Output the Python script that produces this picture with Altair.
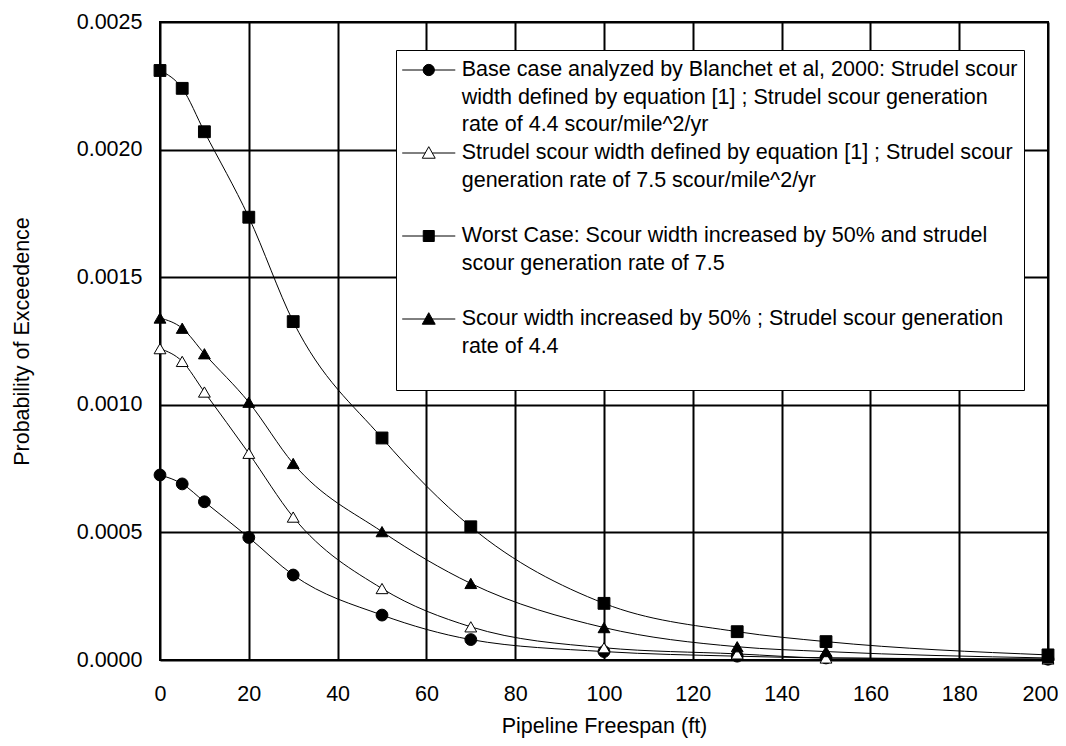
import altair as alt
import pandas as pd

# ---- data ----
freespan = [0, 5, 10, 20, 30, 50, 70, 100, 130, 150, 200]
base_case = [0.000725, 0.00069, 0.00062, 0.00048, 0.000333, 0.000176, 0.00008, 0.000033, 0.000015, 0.000008, 0.000003]
rate_7_5 = [0.00122, 0.00117, 0.00105, 0.00081, 0.00056, 0.00028, 0.00013, 0.000048, 0.000024, 0.000008, 0.000004]
worst_case = [0.00231, 0.00224, 0.00207, 0.001735, 0.001326, 0.00087, 0.000522, 0.000222, 0.000111, 0.000072, 0.00002]
width_50 = [0.00134, 0.0013, 0.0012, 0.00101, 0.00077, 0.000503, 0.0003, 0.000127, 0.000052, 0.000033, 0.000008]

series_labels = [
    "Base case analyzed by Blanchet et al, 2000: Strudel scour|width defined by equation [1] ; Strudel scour generation|rate of 4.4 scour/mile^2/yr",
    "Strudel scour width defined by equation [1] ; Strudel scour|generation rate of 7.5 scour/mile^2/yr| ",
    "Worst Case: Scour width increased by 50% and strudel|scour generation rate of 7.5| ",
    "Scour width increased by 50% ; Strudel scour generation|rate of 4.4| ",
]
series_values = [base_case, rate_7_5, worst_case, width_50]
marker_shapes = ["circle", "triangle-up", "square", "triangle-up"]
marker_fills = ["black", "white", "black", "black"]

x_ticks = [0, 20, 40, 60, 80, 100, 120, 140, 160, 180, 200]
y_ticks = [0.0, 0.0005, 0.001, 0.0015, 0.002, 0.0025]

# legend symbols: short line with marker (unit = 13.75 px)
legend_paths = [
    "M-1.93,0H1.93M0.41,0A0.41,0.41 0 1,1 -0.41,0A0.41,0.41 0 1,1 0.41,0Z",
    "M-1.93,0H-0.26M0.26,0H1.93M0,-0.46L0.47,0.38L-0.47,0.38Z",
    "M-1.93,0H1.93M-0.4,-0.4H0.4V0.4H-0.4Z",
    "M-1.93,0H1.93M0,-0.46L0.47,0.38L-0.47,0.38Z",
]

rows = []
for lab, vals, shp, fil in zip(series_labels, series_values, marker_shapes, marker_fills):
    for xv, yv in zip(freespan, vals):
        rows.append({"x": xv, "y": yv, "series": lab, "shape": shp, "fill": fil})
df = pd.DataFrame(rows)

FONT = "Liberation Sans"
FS = 21.5

x_enc = alt.X(
    "x:Q",
    scale=alt.Scale(domain=[0, 200], nice=False),
    axis=alt.Axis(
        values=x_ticks, title="Pipeline Freespan (ft)", grid=True, ticks=False, domain=False,
        labelFlush=False, labelPadding=40, labelBaseline="alphabetic",
        labelOffset={"condition": {"test": "datum.value >= 200", "value": -8}, "value": 0},
        titleBaseline="alphabetic", titleY=72,
    ),
)
y_enc = alt.Y(
    "y:Q",
    scale=alt.Scale(domain=[0, 0.0025], nice=False),
    axis=alt.Axis(
        values=y_ticks, format=".4f", title="Probability of Exceedence", grid=True, ticks=False,
        domain=False, labelFlush=False, labelPadding=18,
        titleAngle=270, titleBaseline="alphabetic", titleX=-131.5,
    ),
)

base = alt.Chart(df)

lines = base.mark_line(color="black", strokeWidth=1, interpolate="monotone").encode(
    x=x_enc, y=y_enc, detail="series:N", order="x:Q"
)

points = base.mark_point(filled=True, stroke="black", strokeWidth=1, size=140, opacity=1).encode(
    x=x_enc, y=y_enc,
    shape=alt.Shape("shape:N", scale=None),
    fill=alt.Fill("fill:N", scale=None),
)

leg = alt.Legend(
    orient="none", legendX=236, legendY=28, direction="vertical", title=None,
    labelExpr="split(datum.label, '|')", labelFont=FONT, labelFontSize=FS, labelColor="black",
    labelLimit=2000, labelOffset=18.5, labelBaseline="middle",
    symbolSize=756.25, symbolOffset=12.75,
    symbolStrokeColor="black", symbolStrokeWidth=1, symbolOpacity=1,
    strokeColor="black", fillColor="white", padding=5.5, rowPadding=3, cornerRadius=0,
)

legend_layer = base.transform_filter("datum.x < 0").mark_point(
    filled=True, stroke="black", strokeWidth=1
).encode(
    x=x_enc, y=y_enc,
    shape=alt.Shape("series:N", scale=alt.Scale(domain=series_labels, range=legend_paths), legend=leg),
    fill=alt.Fill("series:N", scale=alt.Scale(domain=series_labels, range=marker_fills), legend=leg),
)

chart = (
    alt.layer(lines, points, legend_layer)
    .properties(
        width=888, height=638,
        padding={"left": 152, "top": 14, "right": 10, "bottom": 78},
        autosize=alt.AutoSizeParams(type="none"),
    )
    .configure(style={"guide-label": {"lineHeight": 27.5}})
    .configure_view(stroke="black", strokeWidth=2)
    .configure_axis(
        gridColor="black", gridWidth=2, gridOpacity=1,
        labelFont=FONT, labelFontSize=FS, labelColor="black",
        titleFont=FONT, titleFontSize=FS, titleColor="black", titleFontWeight="normal",
    )
)

chart.save("out.html", embed_options={"renderer": "svg", "actions": False})
